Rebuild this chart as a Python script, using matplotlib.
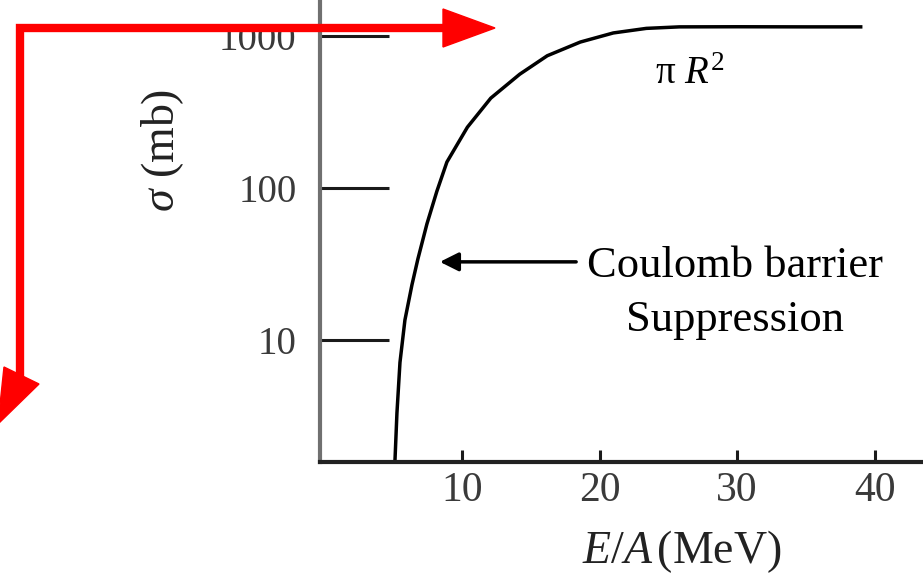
import matplotlib
matplotlib.use("Agg")
import matplotlib.pyplot as plt
from matplotlib.lines import Line2D
from matplotlib.patches import Polygon

plt.rcParams['font.family'] = ['Liberation Serif', 'DejaVu Serif']
plt.rcParams['mathtext.fontset'] = 'custom'
plt.rcParams['mathtext.rm'] = 'Liberation Serif'
plt.rcParams['mathtext.it'] = 'Liberation Serif:italic'

# Fusion cross section vs energy per nucleon
energy = [5.13, 5.28, 5.5, 5.86, 6.37, 6.8, 7.46, 8.18, 8.91, 10.4, 12.1,
          14.2, 16.2, 18.6, 21.0, 23.4, 25.8, 30.0, 35.0, 39.1]
sigma = [1.55, 3.3, 7.1, 13.5, 23, 34, 58, 95, 148, 251, 390,
         560, 741, 912, 1047, 1122, 1148, 1150, 1148, 1148]

x_ticks = [10, 20, 30, 40]
y_ticks = [10, 100, 1000]
y_tick_labels = ["10", "100", "1000"]

W, H = 923, 578
fig = plt.figure(figsize=(W / 100, H / 100), dpi=100)
ax = fig.add_axes([320 / W, (H - 462) / H, 1 - 320 / W, 462 / H])

ax.plot(energy, sigma, color="black", lw=2.5, solid_capstyle="butt")

ax.set_yscale("log")
ax.set_xlim(-0.31, 43.5)
ax.set_ylim(1.57, 1725)

ax.set_xticks(x_ticks)
ax.set_xticklabels([str(t) for t in x_ticks])
ax.set_yticks(y_ticks)
ax.set_yticklabels(y_tick_labels)
ax.yaxis.set_minor_locator(matplotlib.ticker.NullLocator())

ax.tick_params(axis="y", direction="in", length=50, width=2.2, pad=17,
               labelsize=28, colors="#1a1a1a", labelcolor="#3a3a3a")
ax.tick_params(axis="x", direction="in", length=9, width=2.2, pad=7,
               labelsize=30, colors="#1a1a1a", labelcolor="#3a3a3a")
ax.yaxis.get_major_ticks()[2].tick1line.set_color("#888888")

for side in ("top", "right"):
    ax.spines[side].set_visible(False)
ax.spines["left"].set_color("#707070")
ax.spines["left"].set_linewidth(3.0)
ax.spines["bottom"].set_color("#222222")
ax.spines["bottom"].set_linewidth(3.0)

ax.set_ylabel(r"$\sigma$ (mb)", fontsize=33, color="#222222")
ax.yaxis.set_label_coords(-0.222, 0.675)
ax.set_xlabel(r"$E/A\,$(MeV)", fontsize=33, color="#222222")
ax.xaxis.set_label_coords(0.60, -0.143)

ax.text(0.614, 0.838, r"π $R^2$", transform=ax.transAxes, fontsize=28,
        ha="center", va="center")

ax.annotate("", xy=(8.4, 32.6), xytext=(18.3, 32.6),
            arrowprops=dict(arrowstyle="-|>", color="black", lw=2.5,
                            mutation_scale=28, shrinkA=0, shrinkB=0))
ax.text(0.688, 0.365, "Coulomb barrier\nSuppression", transform=ax.transAxes,
        fontsize=32, ha="center", va="center", linespacing=1.45)


def px(x, y):
    return x / W, 1 - y / H


# red pointer marks on the figure
red = "#ff0000"
path = [px(20, 378), px(20, 28), px(445, 28)]
fig.add_artist(Line2D([p[0] for p in path], [p[1] for p in path],
                      color=red, lw=6, solid_joinstyle="miter",
                      transform=fig.transFigure))
fig.add_artist(Polygon([px(443, 9), px(443, 47), px(495, 28)], closed=True,
                       color=red, transform=fig.transFigure))
fig.add_artist(Polygon([px(4, 367), px(39, 384), px(-2, 424)], closed=True,
                       color=red, transform=fig.transFigure))

fig.savefig("out.png", dpi=100)
